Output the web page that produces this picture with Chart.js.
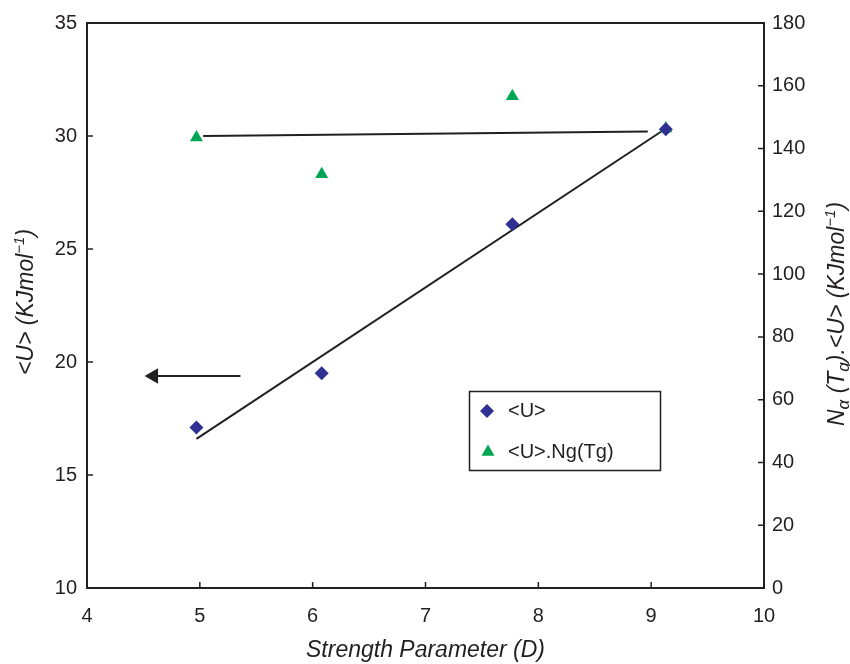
<!DOCTYPE html>
<html>
<head>
<meta charset="utf-8">
<script src="https://cdn.jsdelivr.net/npm/chart.js@4.4.0/dist/chart.umd.min.js"></script>
<style>
  html, body { margin: 0; padding: 0; background: #fff; }
  #wrap { width: 850px; height: 664px; }
</style>
</head>
<body>
<div id="wrap"><canvas id="strengthChart" width="850" height="664"></canvas></div>
<script>
// values
const strengthD = [4.97, 6.08, 7.77, 9.13];
const uValues = [17.1, 19.5, 26.1, 30.3];        // <U>, left axis
const ngValues = [143.5, 131.8, 156.7, 146.4];   // <U>.Ng(Tg), right axis

const fitX = [4.97, 9.12];
const fitY = [16.6, 30.3];
const flatX = [5.03, 8.97];
const flatY = [30.0, 30.2];
const arrowX = [5.36, 4.59];
const arrowY = [19.38, 19.38];

const xTicks = [4, 5, 6, 7, 8, 9, 10];

const ink = '#231F20';
const blue = '#2E3192';
const green = '#00A651';
const fontFamily = '"Liberation Sans", Arial, Helvetica, sans-serif';

const toPoints = (xs, ys) => xs.map((x, i) => ({ x: x, y: ys[i] }));

// inward tick marks + top frame line
const frameTicks = {
  id: 'frameTicks',
  afterDatasetsDraw(chart) {
    const c = chart.ctx;
    const a = chart.chartArea;
    const sx = chart.scales.x, sy = chart.scales.y, sy2 = chart.scales.y2;
    c.save();
    c.strokeStyle = ink;
    c.lineWidth = 1.5;
    c.beginPath();
    sx.ticks.forEach(t => {
      const p = sx.getPixelForValue(t.value);
      if (t.value > sx.min && t.value < sx.max) { c.moveTo(p, a.bottom); c.lineTo(p, a.bottom - 6); }
    });
    sy.ticks.forEach(t => {
      const p = sy.getPixelForValue(t.value);
      if (t.value > sy.min && t.value < sy.max) { c.moveTo(a.left, p); c.lineTo(a.left + 6, p); }
    });
    sy2.ticks.forEach(t => {
      const p = sy2.getPixelForValue(t.value);
      if (t.value > sy2.min && t.value < sy2.max) { c.moveTo(a.right, p); c.lineTo(a.right - 6, p); }
    });
    c.stroke();
    c.lineWidth = 2;
    c.beginPath();
    c.moveTo(a.left - 1, a.top);
    c.lineTo(a.right + 1, a.top);
    c.stroke();
    c.restore();
  }
};

function drawRuns(c, runs, cx, cy) {
  // runs drawn left to right on a rotated baseline, centred at (cx, cy)
  let total = 0;
  runs.forEach(r => {
    c.font = 'italic ' + r.size + 'px ' + fontFamily;
    r.w = c.measureText(r.t).width;
    total += r.w;
  });
  c.save();
  c.translate(cx, cy);
  c.rotate(-Math.PI / 2);
  c.fillStyle = ink;
  c.textBaseline = 'alphabetic';
  let x = -total / 2;
  runs.forEach(r => {
    c.font = 'italic ' + r.size + 'px ' + fontFamily;
    c.fillText(r.t, x, 8 + (r.dy || 0));
    x += r.w;
  });
  c.restore();
}

const sideTitles = {
  id: 'sideTitles',
  afterDraw(chart) {
    const c = chart.ctx;
    drawRuns(c, [
      { t: '<U> (KJmol', size: 23 },
      { t: '\u22121', size: 15, dy: -9 },
      { t: ')', size: 23 }
    ], 25, 302);
    drawRuns(c, [
      { t: 'N', size: 23 },
      { t: '\u03B1', size: 17, dy: 5 },
      { t: ' (T', size: 23 },
      { t: 'g', size: 17, dy: 5 },
      { t: ').<U> (KJmol', size: 23 },
      { t: '\u22121', size: 15, dy: -9 },
      { t: ')', size: 23 }
    ], 836, 314);
  }
};

// legend box inside the plot
const boxLegend = {
  id: 'boxLegend',
  afterDraw(chart) {
    const c = chart.ctx;
    c.save();
    c.strokeStyle = ink;
    c.lineWidth = 1.5;
    c.strokeRect(469.5, 391.5, 191, 79);
    // diamond
    c.fillStyle = blue;
    c.beginPath();
    c.moveTo(487, 404); c.lineTo(494, 411); c.lineTo(487, 418); c.lineTo(480, 411);
    c.closePath(); c.fill();
    // triangle
    c.fillStyle = green;
    c.beginPath();
    c.moveTo(488, 444.5); c.lineTo(494.5, 455.8); c.lineTo(481.5, 455.8);
    c.closePath(); c.fill();
    c.fillStyle = ink;
    c.font = '20px ' + fontFamily;
    c.textBaseline = 'middle';
    c.fillText(chart.data.datasets[0].label, 508, 411);
    c.fillText(chart.data.datasets[1].label, 508, 452);
    c.restore();
  }
};

const tickFont = { family: fontFamily, size: 20 };

new Chart(document.getElementById('strengthChart'), {
  type: 'scatter',
  data: {
    datasets: [
      {
        label: '<U>',
        data: toPoints(strengthD, uValues),
        yAxisID: 'y',
        pointStyle: 'rectRot',
        pointRadius: 7,
        backgroundColor: blue,
        borderColor: blue,
        borderWidth: 0
      },
      {
        label: '<U>.Ng(Tg)',
        data: toPoints(strengthD, ngValues),
        yAxisID: 'y2',
        pointStyle: 'triangle',
        pointRadius: 7.5,
        backgroundColor: green,
        borderColor: green,
        borderWidth: 0
      },
      {
        label: 'fit',
        data: toPoints(fitX, fitY),
        yAxisID: 'y',
        showLine: true,
        borderColor: ink,
        borderWidth: 2,
        pointRadius: 0
      },
      {
        label: 'flat',
        data: toPoints(flatX, flatY),
        yAxisID: 'y',
        showLine: true,
        borderColor: ink,
        borderWidth: 2,
        pointRadius: 0
      },
      {
        label: 'arrow',
        data: toPoints(arrowX, arrowY),
        yAxisID: 'y',
        showLine: true,
        borderColor: ink,
        borderWidth: 2,
        backgroundColor: ink,
        pointStyle: 'triangle',
        pointRadius: [0, 9],
        pointRotation: -90,
        pointBorderWidth: 0
      }
    ]
  },
  options: {
    responsive: false,
    animation: false,
    layout: { padding: { top: 23, left: 0, right: 0, bottom: 0 } },
    plugins: {
      legend: { display: false },
      tooltip: { enabled: false }
    },
    scales: {
      x: {
        type: 'linear',
        min: 4,
        max: 10,
        afterBuildTicks: s => { s.ticks = xTicks.map(v => ({ value: v })); },
        afterFit: s => { s.height = 76; },
        grid: { display: false, drawTicks: false },
        border: { display: true, color: ink, width: 2 },
        ticks: { font: tickFont, color: ink, padding: 16, maxRotation: 0 },
        title: {
          display: true,
          text: 'Strength Parameter (D)',
          color: ink,
          font: { family: fontFamily, size: 23, style: 'italic' },
          padding: { top: 4, bottom: 0 }
        }
      },
      y: {
        type: 'linear',
        position: 'left',
        min: 10,
        max: 35,
        ticks: { stepSize: 5, font: tickFont, color: ink, padding: 10 },
        afterFit: s => { s.width = 87; },
        grid: { display: false, drawTicks: false },
        border: { display: true, color: ink, width: 2 }
      },
      y2: {
        type: 'linear',
        position: 'right',
        min: 0,
        max: 180,
        ticks: { stepSize: 20, font: tickFont, color: ink, padding: 8 },
        afterFit: s => { s.width = 86; },
        grid: { display: false, drawTicks: false },
        border: { display: true, color: ink, width: 2 }
      }
    }
  },
  plugins: [frameTicks, sideTitles, boxLegend]
});
</script>
</body>
</html>
